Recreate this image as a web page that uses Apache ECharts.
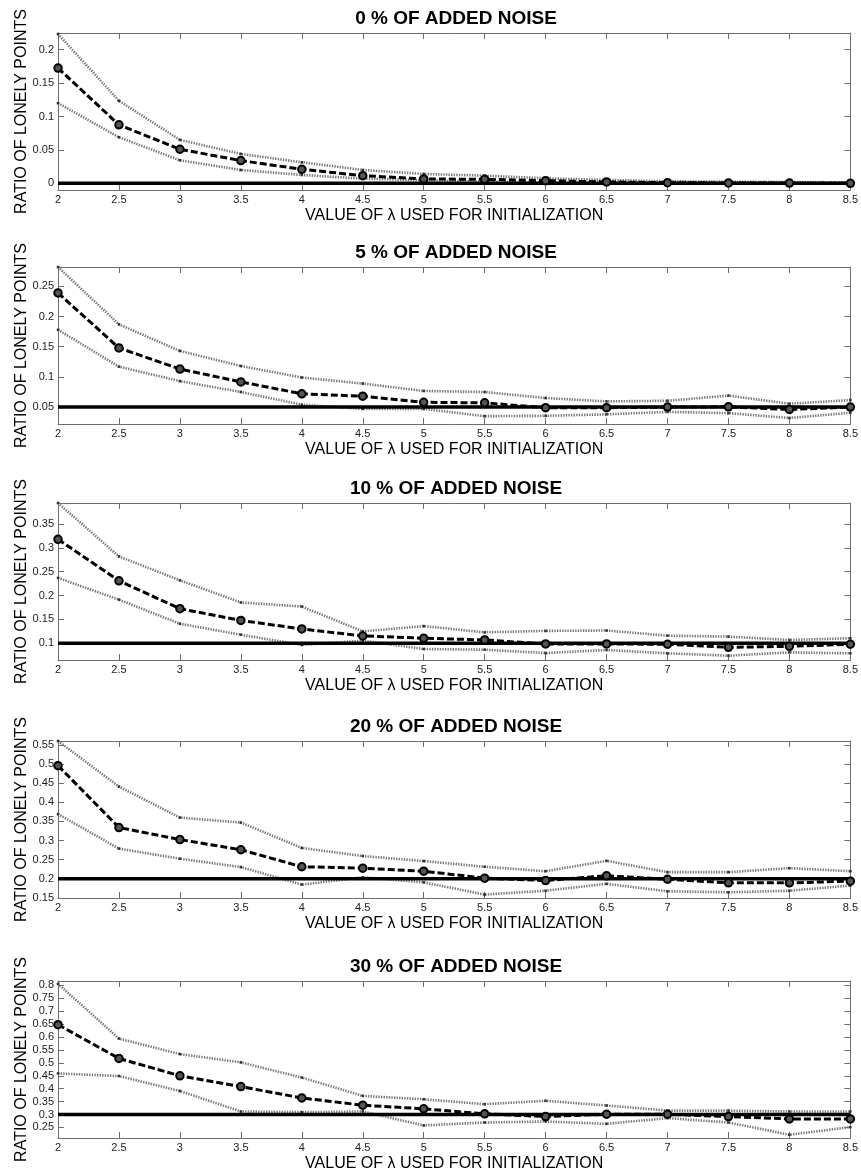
<!DOCTYPE html>
<html>
<head>
<meta charset="utf-8">
<script src="https://cdn.jsdelivr.net/npm/echarts@6/dist/echarts.min.js"></script>
<style>
html,body{margin:0;padding:0;background:#fff;}
#chart{width:861px;height:1173px;}
</style>
</head>
<body>
<div id="chart"></div>
<script>
const xValues = [2, 2.5, 3, 3.5, 4, 4.5, 5, 5.5, 6, 6.5, 7, 7.5, 8, 8.5];
const xLabelText = 'VALUE OF \u03bb USED FOR INITIALIZATION';
const yLabelText = 'RATIO OF LONELY POINTS';
const panelTitles = ['0 % OF ADDED NOISE', '5 % OF ADDED NOISE', '10 % OF ADDED NOISE', '20 % OF ADDED NOISE', '30 % OF ADDED NOISE'];
const noiseLevels = [0, 0.05, 0.1, 0.2, 0.3];

// 0 % noise
const mean0  = [0.1725, 0.0875, 0.051, 0.034, 0.021, 0.0115, 0.0065, 0.006, 0.004, 0.002, 0.001, 0.0005, 0.0003, 0.0];
const upper0 = [0.2235, 0.1235, 0.065, 0.044, 0.0315, 0.02, 0.014, 0.0115, 0.0075, 0.005, 0.003, 0.0025, 0.002, 0.0015];
const lower0 = [0.12, 0.069, 0.0345, 0.02, 0.0125, 0.007, 0.0045, 0.0025, 0.001, 0.0005, 0.0, 0.0, 0.0, 0.0];
// 5 % noise
const mean5  = [0.239, 0.148, 0.113, 0.0917, 0.072, 0.068, 0.058, 0.057, 0.049, 0.049, 0.05, 0.0505, 0.046, 0.05];
const upper5 = [0.282, 0.187, 0.143, 0.118, 0.099, 0.089, 0.0767, 0.075, 0.065, 0.0594, 0.0605, 0.069, 0.0556, 0.0617];
const lower5 = [0.178, 0.117, 0.093, 0.075, 0.054, 0.047, 0.047, 0.035, 0.0356, 0.038, 0.042, 0.04, 0.032, 0.0405];
// 10 % noise
const mean10  = [0.318, 0.231, 0.1725, 0.148, 0.130, 0.1155, 0.1106, 0.107, 0.0986, 0.0986, 0.098, 0.0915, 0.0937, 0.098];
const upper10 = [0.394, 0.282, 0.232, 0.1856, 0.177, 0.125, 0.136, 0.123, 0.126, 0.1268, 0.116, 0.114, 0.107, 0.1106];
const lower10 = [0.237, 0.1915, 0.141, 0.118, 0.0965, 0.1056, 0.088, 0.0866, 0.0796, 0.086, 0.079, 0.074, 0.081, 0.079];
// 20 % noise
const mean20  = [0.4956, 0.334, 0.3026, 0.276, 0.2316, 0.228, 0.22, 0.2018, 0.1956, 0.208, 0.199, 0.1895, 0.1895, 0.194];
const upper20 = [0.56, 0.441, 0.36, 0.347, 0.2807, 0.2596, 0.2465, 0.2316, 0.22, 0.247, 0.2175, 0.2175, 0.228, 0.22];
const lower20 = [0.369, 0.279, 0.2526, 0.2307, 0.185, 0.204, 0.191, 0.159, 0.169, 0.187, 0.1675, 0.165, 0.169, 0.1825];
// 30 % noise
const mean30  = [0.648, 0.517, 0.450, 0.408, 0.364, 0.336, 0.322, 0.3026, 0.292, 0.301, 0.301, 0.292, 0.283, 0.283];
const upper30 = [0.806, 0.594, 0.534, 0.502, 0.443, 0.372, 0.359, 0.34, 0.353, 0.335, 0.315, 0.315, 0.3116, 0.3116];
const lower30 = [0.459, 0.449, 0.391, 0.3116, 0.309, 0.3116, 0.2576, 0.269, 0.273, 0.264, 0.286, 0.269, 0.2216, 0.251];

const yTicks0  = [0, 0.05, 0.1, 0.15, 0.2];
const yTicks5  = [0.05, 0.1, 0.15, 0.2, 0.25];
const yTicks10 = [0.1, 0.15, 0.2, 0.25, 0.3, 0.35];
const yTicks20 = [0.15, 0.2, 0.25, 0.3, 0.35, 0.4, 0.45, 0.5, 0.55];
const yTicks30 = [0.25, 0.3, 0.35, 0.4, 0.45, 0.5, 0.55, 0.6, 0.65, 0.7, 0.75, 0.8];

const yLimits = [[-0.01, 0.225], [0.022, 0.282], [0.065, 0.394], [0.15, 0.56], [0.209, 0.817]];

const means = [mean0, mean5, mean10, mean20, mean30];
const uppers = [upper0, upper5, upper10, upper20, upper30];
const lowers = [lower0, lower5, lower10, lower20, lower30];
const yTicks = [yTicks0, yTicks5, yTicks10, yTicks20, yTicks30];

const gridTops = [33, 267, 503, 741, 981];
const gridH = 157;
const FONT = '"Liberation Sans", Arial, sans-serif';
const frameColor = '#6e6e6e';

const grids = [], xAxes = [], yAxes = [], series = [], titles = [];
const pairs = arr => xValues.map((x, i) => [x, arr[i]]);

for (let p = 0; p < 5; p++) {
  grids.push({left: 58, right: 8, top: gridTops[p], height: gridH, containLabel: false});
  titles.push({
    text: panelTitles[p], left: 451, top: gridTops[p] - 29, textAlign: 'center',
    textStyle: {fontFamily: FONT, fontSize: 19, fontWeight: 'bold', color: '#000', lineHeight: 20}
  });
  const xBase = {
    type: 'value', gridIndex: p, min: 2, max: 8.5, interval: 0.5,
    axisLine: {show: true, onZero: false, lineStyle: {color: frameColor, width: 1}},
    axisTick: {show: true, inside: true, length: 6, lineStyle: {color: frameColor}},
    splitLine: {show: false}
  };
  xAxes.push(Object.assign({}, xBase, {
    position: 'bottom',
    axisLabel: {show: true, margin: 4, fontFamily: FONT, fontSize: 11, color: '#222',
      formatter: v => String(v)},
    name: xLabelText, nameLocation: 'middle', nameGap: 18, nameMoveOverlap: false,
    nameTextStyle: {fontFamily: FONT, fontSize: 16, color: '#000'}
  }));
  xAxes.push(Object.assign({}, xBase, {position: 'top', axisLabel: {show: false}}));
  const yBase = {
    type: 'value', gridIndex: p, min: yLimits[p][0], max: yLimits[p][1],
    axisLine: {show: true, onZero: false, lineStyle: {color: frameColor, width: 1}},
    axisTick: {show: true, inside: true, length: 6, lineStyle: {color: frameColor}, customValues: yTicks[p]},
    splitLine: {show: false}
  };
  yAxes.push(Object.assign({}, yBase, {
    position: 'left',
    axisLabel: {show: true, margin: 4, fontFamily: FONT, fontSize: 11, color: '#222',
      customValues: yTicks[p], formatter: v => String(+v.toFixed(2))},
    name: yLabelText, nameLocation: 'middle', nameRotate: 90, nameGap: 28, nameMoveOverlap: false,
    nameTextStyle: {fontFamily: FONT, fontSize: 16, color: '#000'}
  }));
  yAxes.push(Object.assign({}, yBase, {position: 'right', axisLabel: {show: false}}));

  const xi = 2 * p, yi = 2 * p;
  const dotted = {color: '#7a7a7a', width: 2.6, type: [1.4, 1.2]};
  series.push({
    type: 'line', xAxisIndex: xi, yAxisIndex: yi, data: pairs(uppers[p]),
    lineStyle: dotted, symbol: 'rect', symbolSize: 2.5, itemStyle: {color: '#333'},
    animation: false, silent: true, z: 2
  });
  series.push({
    type: 'line', xAxisIndex: xi, yAxisIndex: yi, data: pairs(lowers[p]),
    lineStyle: dotted, symbol: 'rect', symbolSize: 2.5, itemStyle: {color: '#333'},
    animation: false, silent: true, z: 2
  });
  series.push({
    type: 'line', xAxisIndex: xi, yAxisIndex: yi,
    data: [[xValues[0], noiseLevels[p]], [xValues[xValues.length - 1], noiseLevels[p]]],
    lineStyle: {color: '#000', width: 3.5, type: 'solid'}, symbol: 'none',
    animation: false, silent: true, z: 3
  });
  series.push({
    type: 'line', xAxisIndex: xi, yAxisIndex: yi, data: pairs(means[p]),
    lineStyle: {color: '#000', width: 3, type: [7, 3]},
    symbol: 'circle', symbolSize: 7.5, showAllSymbol: true,
    itemStyle: {color: '#555', borderColor: '#000', borderWidth: 2},
    animation: false, silent: true, z: 4
  });
}

const chart = echarts.init(document.getElementById('chart'), null, {renderer: 'canvas'});
chart.setOption({
  backgroundColor: '#fff',
  animation: false,
  title: titles,
  grid: grids,
  xAxis: xAxes,
  yAxis: yAxes,
  series: series
});
</script>
</body>
</html>
